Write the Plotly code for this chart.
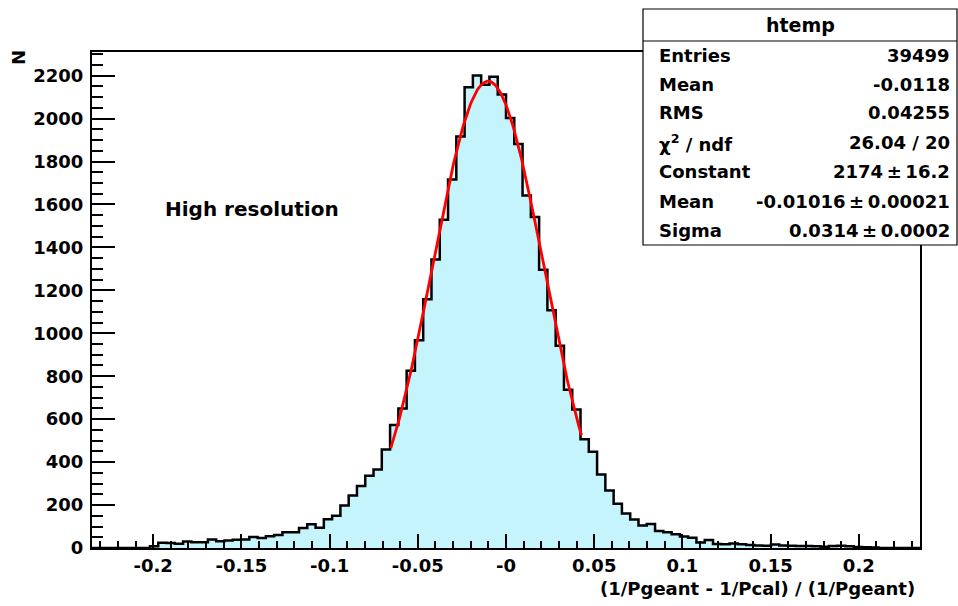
import numpy as np
import plotly.graph_objects as go

# ---------------- data ----------------
X_LOW = -0.2347
X_HIGH = 0.2347
N_BINS = 100

COUNTS = [
    0, 0, 0, 0, 0, 0, 0, 8, 25, 23,
    20, 30, 27, 27, 40, 32, 35, 38, 40, 51,
    46, 55, 60, 73, 73, 93, 111, 94, 134, 150,
    198, 245, 289, 336, 366, 459, 573, 650, 825, 967,
    1158, 1344, 1529, 1716, 1916, 2146, 2200, 2158, 2195, 2112,
    2003, 1882, 1642, 1541, 1296, 1107, 942, 737, 645, 506,
    448, 342, 268, 206, 161, 133, 105, 112, 79, 73,
    64, 53, 48, 26, 37, 19, 17, 21, 17, 14,
    12, 11, 16, 12, 11, 9, 9, 8, 6, 9,
    11, 8, 5, 3, 2, 0, 0, 0, 0, 0,
]

# Gaussian fit (from stats box) and the fit range
FIT_CONSTANT = 2174.0
FIT_MEAN = -0.01016
FIT_SIGMA = 0.0314
FIT_RANGE = [-0.0653, 0.0428]

X_TICK_VALUES = [-0.2, -0.15, -0.1, -0.05, 0.0, 0.05, 0.1, 0.15, 0.2]
X_TICK_LABELS = ["-0.2", "-0.15", "-0.1", "-0.05", "-0", "0.05", "0.1", "0.15", "0.2"]

STATS_TITLE = "htemp"
STATS_NAMES = ["Entries", "Mean", "RMS", "χ<sup>2</sup> / ndf", "Constant", "Mean", "Sigma"]
STATS_VALUES = ["39499", "-0.0118", "0.04255", "26.04 / 20",
                "2174\u2009±\u200916.2", "-0.01016\u2009±\u20090.00021", "0.0314\u2009±\u20090.0002"]

X_TITLE = "(1/Pgeant - 1/Pcal) / (1/Pgeant)"
Y_TITLE = "N"
LABEL_TEXT = "High resolution"

# ---------------- figure ----------------
W, H = 958, 606
ML, MR, MT, MB = 92, 38, 52, 58
PW, PH = W - ML - MR, H - MT - MB


def px(xp):
    return (xp - ML) / PW


def py(yp):
    return (H - MB - yp) / PH


FONT = dict(family="DejaVu Sans", size=18, color="black", weight="bold")

edges = np.linspace(X_LOW, X_HIGH, N_BINS + 1)
counts = np.array(COUNTS, dtype=float)
y_step = np.append(counts, counts[-1])

fig = go.Figure()
fig.add_trace(go.Scatter(
    x=edges, y=y_step, mode="lines", line_shape="hv",
    line=dict(color="black", width=2.5),
    fill="tozeroy", fillcolor="#C6F4FD", hoverinfo="skip",
))

xf = np.linspace(FIT_RANGE[0], FIT_RANGE[1], 200)
yf = FIT_CONSTANT * np.exp(-0.5 * ((xf - FIT_MEAN) / FIT_SIGMA) ** 2)
fig.add_trace(go.Scatter(x=xf, y=yf, mode="lines",
                         line=dict(color="#FF0000", width=2.8), hoverinfo="skip"))

ymax = 1.05 * max(COUNTS)

fig.update_layout(
    width=W, height=H,
    margin=dict(l=ML, r=MR, t=MT, b=MB),
    paper_bgcolor="white", plot_bgcolor="white",
    showlegend=False,
    xaxis=dict(
        range=[X_LOW, X_HIGH], showgrid=False, zeroline=False,
        showline=True, linecolor="black", linewidth=2, mirror=True,
        ticks="inside", ticklen=14, tickwidth=1.5, tickcolor="black",
        tickmode="array", tickvals=X_TICK_VALUES, ticktext=X_TICK_LABELS,
        tickfont=FONT, ticklabelstandoff=0,
        minor=dict(ticks="inside", ticklen=7, tickwidth=1.5, tickcolor="black",
                   dtick=0.01, tick0=0, showgrid=False),
    ),
    yaxis=dict(
        range=[0, ymax], showgrid=False, zeroline=False,
        showline=True, linecolor="black", linewidth=2, mirror=True,
        ticks="inside", ticklen=23, tickwidth=1.5, tickcolor="black",
        dtick=200, tick0=0, tickformat="d",
        tickfont=FONT, ticklabelstandoff=3,
        minor=dict(ticks="inside", ticklen=11, tickwidth=1.5, tickcolor="black",
                   dtick=50, tick0=0, showgrid=False),
    ),
)

annotations = []
# axis titles
annotations.append(dict(text=X_TITLE, xref="paper", yref="paper", x=px(917), y=py(588),
                        xanchor="right", yanchor="middle", showarrow=False, font=FONT))
annotations.append(dict(text=Y_TITLE, xref="paper", yref="paper", x=px(19), y=py(58),
                        xanchor="center", yanchor="middle", showarrow=False, font=FONT,
                        textangle=-90))
annotations.append(dict(text=LABEL_TEXT, xref="paper", yref="paper", x=px(163), y=py(209),
                        xanchor="left", yanchor="middle", showarrow=False,
                        font=dict(FONT, size=20)))

# stats box
BOX_L, BOX_R, BOX_T, BOX_B, BOX_DIV = 643, 957, 9, 245, 41
shapes = [
    dict(type="rect", xref="paper", yref="paper", x0=px(BOX_L), x1=px(BOX_R),
         y0=py(BOX_B), y1=py(BOX_T), line=dict(color="black", width=1.2),
         fillcolor="white", layer="above"),
    dict(type="line", xref="paper", yref="paper", x0=px(BOX_L), x1=px(BOX_R),
         y0=py(BOX_DIV), y1=py(BOX_DIV), line=dict(color="black", width=1.2), layer="above"),
]
annotations.append(dict(text=STATS_TITLE, xref="paper", yref="paper", x=px(800), y=py(25),
                        xanchor="center", yanchor="middle", showarrow=False,
                        font=dict(FONT, size=19)))
row_y = [55, 84, 113, 142.5, 171.5, 201, 230]
for name, val, yy in zip(STATS_NAMES, STATS_VALUES, row_y):
    annotations.append(dict(text=name, xref="paper", yref="paper", x=px(657), y=py(yy),
                            xanchor="left", yanchor="middle", showarrow=False, font=FONT))
    annotations.append(dict(text=val, xref="paper", yref="paper", x=px(952), y=py(yy),
                            xanchor="right", yanchor="middle", showarrow=False, font=FONT))

fig.update_layout(annotations=annotations, shapes=shapes)

fig.write_html(
    "out.html",
    config={"displayModeBar": False},
    post_script="document.body.style.margin='0';document.body.style.padding='0';"
                "document.body.style.overflow='hidden';",
)
